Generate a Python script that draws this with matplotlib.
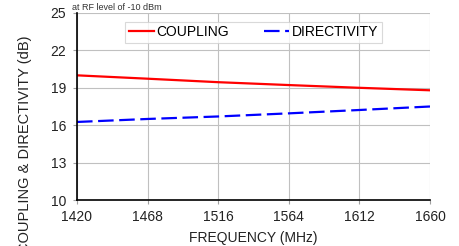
import matplotlib

matplotlib.use("Agg")
import matplotlib.pyplot as plt

plt.rcParams["font.family"] = ["Liberation Sans", "DejaVu Sans"]

# Dados
freq = [1420, 1468, 1516, 1564, 1612, 1660]
coupling = [20.0, 19.73, 19.45, 19.22, 19.0, 18.8]
directivity = [16.26, 16.5, 16.7, 16.95, 17.22, 17.5]
x_ticks = [1420, 1468, 1516, 1564, 1612, 1660]
y_ticks = [10, 13, 16, 19, 22, 25]

fig = plt.figure(figsize=(4.59, 2.46), dpi=100)
ax = fig.add_axes([77 / 459, 1 - 200 / 246, (430 - 77) / 459, (200 - 13) / 246])

ax.plot(freq, coupling, color="#ff0000", linewidth=1.6, label="COUPLING")
ax.plot(freq, directivity, color="#0000ff", linewidth=1.6, dashes=(7, 2.5), label="DIRECTIVITY")

ax.set_xlim(1420, 1660)
ax.set_ylim(10, 25)
ax.set_xticks(x_ticks)
ax.set_yticks(y_ticks)
ax.grid(color="#c0c0c0", linewidth=0.8)
for s in ("top", "right"):
    ax.spines[s].set_visible(False)
for s in ("left", "bottom"):
    ax.spines[s].set_color("black")
    ax.spines[s].set_linewidth(1.2)
ax.tick_params(labelsize=10, length=3, width=0.8, color="#a0a0a0", colors="#222222")
ax.tick_params(axis="x", pad=4)
ax.tick_params(axis="y", pad=5)

ax.set_xlabel("FREQUENCY (MHz)", fontsize=10, color="#222222", labelpad=5)
ax.set_ylabel("COUPLING & DIRECTIVITY (dB)", fontsize=10.5, color="#222222")
ax.yaxis.set_label_coords(-0.127, 0.30)
fig.text(72 / 459, 1 - 7 / 246, "at RF level of -10 dBm", fontsize=6.5, color="#333333", va="center")

leg = ax.legend(loc="upper center", bbox_to_anchor=(0.5, 0.953), ncol=2, fontsize=10,
                frameon=True, fancybox=False, edgecolor="#d0d0d0", handlelength=1.8,
                columnspacing=2.5, borderpad=0.25, handletextpad=0.2, borderaxespad=0)
leg.get_frame().set_linewidth(0.8)

fig.savefig("out.png", dpi=100)
